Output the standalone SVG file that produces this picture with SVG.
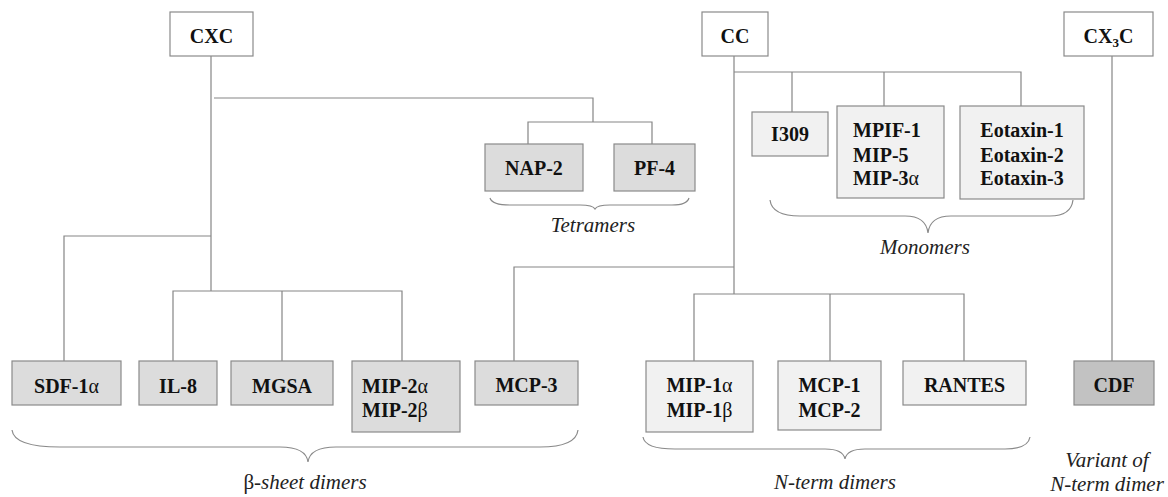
<svg xmlns="http://www.w3.org/2000/svg" width="1168" height="497" viewBox="0 0 1168 497">
<style>
.bx{stroke:#8a8a8a;stroke-width:1.2}
.w{fill:#ffffff}
.m{fill:#dcdcdc}
.l{fill:#f1f1f1}
.d{fill:#c2c2c2}
.t{font-family:'Liberation Serif','Times New Roman','DejaVu Serif',serif;font-weight:bold;font-size:20px;fill:#111}
.c{text-anchor:middle}
.g{font-weight:normal}
.lab{font-family:'Liberation Serif','Times New Roman','DejaVu Serif',serif;font-style:italic;font-size:21px;fill:#222;text-anchor:middle}
.ln{fill:none;stroke:#858585;stroke-width:1.2}
.br{fill:none;stroke:#8a8a8a;stroke-width:1.2}
</style>
<rect width="1168" height="497" fill="#ffffff"/>
<g id="connectors">
<path class="ln" d="M211,56 V291"/>
<path class="ln" d="M211,236 H64 V361"/>
<path class="ln" d="M214,98 H593 V122"/>
<path class="ln" d="M528,144 V122 H652 V144"/>
<path class="ln" d="M173,361 V291 H402 V361"/>
<path class="ln" d="M282,291 V361"/>
<path class="ln" d="M734,56 V294"/>
<path class="ln" d="M734,72 H1021 V106"/>
<path class="ln" d="M792,72 V112"/>
<path class="ln" d="M884,72 V106"/>
<path class="ln" d="M734,267 H514 V361"/>
<path class="ln" d="M694,361 V294 H964 V361"/>
<path class="ln" d="M830,294 V361"/>
<path class="ln" d="M1112,56 V361"/>
</g>
<g id="braces">
<path class="br" d="M12,430 Q14,447 60,447 L280,447 Q306,447 308,462 Q310,447 336,447 L540,447 Q576,447 578,430"/>
<path class="br" d="M490,198 Q492,205 510,205 L580,205 Q593,205 595,209 Q597,205 610,205 L672,205 Q687,205 689,198"/>
<path class="br" d="M770,200 Q772,216 800,216 L905,216 Q926,216 928,233 Q930,216 951,216 L1050,216 Q1071,216 1073,200"/>
<path class="br" d="M643,437 Q645,449 675,449 L825,449 Q843,449 845,459 Q847,449 865,449 L1005,449 Q1028,449 1030,437"/>
</g>
<g id="n-cxc"><rect class="bx w" x="170" y="12" width="83" height="44"/><text class="t c" x="211.5" y="43">CXC</text></g>
<g id="n-cc"><rect class="bx w" x="702" y="12" width="66" height="44"/><text class="t c" x="735" y="43">CC</text></g>
<g id="n-cx3c"><rect class="bx w" x="1064" y="12" width="89" height="44"/><text class="t c" x="1108.5" y="43">CX<tspan font-size="13" dy="4">3</tspan><tspan dy="-4">C</tspan></text></g>
<g id="n-nap2"><rect class="bx m" x="485" y="144" width="98" height="47"/><text class="t c" x="534" y="175">NAP-2</text></g>
<g id="n-pf4"><rect class="bx m" x="614" y="144" width="81" height="47"/><text class="t c" x="654.5" y="175">PF-4</text></g>
<g id="n-i309"><rect class="bx l" x="752" y="112" width="76" height="44"/><text class="t c" x="790" y="141">I309</text></g>
<g id="n-mpif"><rect class="bx l" x="837" y="106" width="107" height="92"/><text class="t" x="853" y="137">MPIF-1</text><text class="t" x="853" y="162">MIP-5</text><text class="t" x="853" y="185">MIP-3<tspan class="g">α</tspan></text></g>
<g id="n-eotaxin"><rect class="bx l" x="960" y="106" width="124" height="93"/><text class="t c" x="1022" y="137">Eotaxin-1</text><text class="t c" x="1022" y="162">Eotaxin-2</text><text class="t c" x="1022" y="185">Eotaxin-3</text></g>
<g id="n-sdf1a"><rect class="bx m" x="12" y="361" width="109" height="44"/><text class="t c" x="66.5" y="393">SDF-1<tspan class="g">α</tspan></text></g>
<g id="n-il8"><rect class="bx m" x="139" y="361" width="78" height="44"/><text class="t c" x="178" y="393">IL-8</text></g>
<g id="n-mgsa"><rect class="bx m" x="231" y="361" width="102" height="44"/><text class="t c" x="282" y="393">MGSA</text></g>
<g id="n-mip2"><rect class="bx m" x="352" y="361" width="108" height="71"/><text class="t" x="362" y="393">MIP-2<tspan class="g">α</tspan></text><text class="t" x="362" y="417">MIP-2<tspan class="g">β</tspan></text></g>
<g id="n-mcp3"><rect class="bx m" x="475" y="361" width="103" height="44"/><text class="t c" x="526.5" y="392">MCP-3</text></g>
<g id="n-mip1"><rect class="bx l" x="646" y="361" width="107" height="71"/><text class="t c" x="699.5" y="392">MIP-1<tspan class="g">α</tspan></text><text class="t c" x="699.5" y="417">MIP-1<tspan class="g">β</tspan></text></g>
<g id="n-mcp1"><rect class="bx l" x="778" y="361" width="103" height="69"/><text class="t c" x="829.5" y="392">MCP-1</text><text class="t c" x="829.5" y="417">MCP-2</text></g>
<g id="n-rantes"><rect class="bx l" x="903" y="361" width="123" height="44"/><text class="t c" x="964.5" y="392">RANTES</text></g>
<g id="n-cdf"><rect class="bx d" x="1074" y="361" width="80" height="44"/><text class="t c" x="1114" y="392">CDF</text></g>
<g id="labels">
<text class="lab" x="593" y="232">Tetramers</text>
<text class="lab" x="925" y="254">Monomers</text>
<text class="lab" x="305" y="489"><tspan font-style="normal">β</tspan>-sheet dimers</text>
<text class="lab" x="835" y="489">N-term dimers</text>
<text class="lab" x="1107" y="467">Variant of</text>
<text class="lab" x="1107" y="491">N-term dimer</text>
</g>
</svg>
